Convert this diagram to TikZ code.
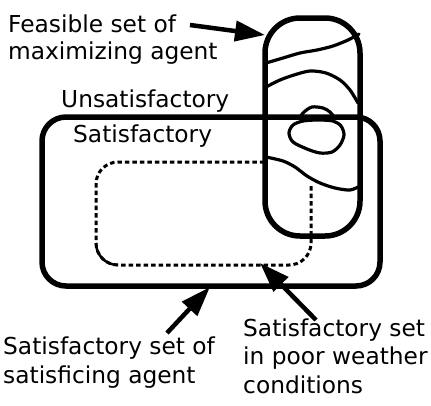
\documentclass[tikz,border=0pt]{standalone}
\usepackage{fontspec}
\setmainfont{DejaVu Sans}
\usetikzlibrary{arrows.meta}
\begin{document}
\begin{tikzpicture}[x=1pt,y=-1pt,
  setbox/.style={draw, line width=5.5pt, inner sep=0pt, outer sep=0pt},
  contour/.style={line width=3.2pt, line join=round, line cap=round},
  weather/.style={line width=3pt, dash pattern=on 4.5pt off 3pt},
  pointer/.style={line width=4.5pt, -{Triangle[length=30pt,width=20pt]}},
  lbl/.style={inner sep=0pt, anchor=base west, align=left,
    font=\fontsize{23.3}{27}\selectfont},
  lblwide/.style={lbl, font=\fontsize{23.3}{28.5}\selectfont},
]
\useasboundingbox (0,0) rectangle (431,405);

% feasible set (tall pill) and satisfactory set (wide box)
\node[setbox, rounded corners=35pt, minimum width=95pt, minimum height=218pt]
  (feasible) at (312.5,127) {};
\node[setbox, rounded corners=24pt, minimum width=338pt, minimum height=169pt]
  (satisfset) at (211,201.5) {};

% satisfactory set in poor weather (dashed), cut off by the lower contour
\draw[weather, rounded corners=22pt] (311,186) -- (311,265) -- (96,265) -- (96,162) -- (267,162);
\draw[line width=2.5pt] (118,265) arc[start angle=90, end angle=180, radius=22];

% contour lines of the objective inside the feasible set
\draw[contour] plot[smooth] coordinates {(266,63) (283,58) (300,53) (317,50) (333,46) (348,40) (359,34)};
\draw[contour] plot[smooth] coordinates {(266,87) (280,80) (294,75) (310,71) (326,73) (340,80) (350,90) (358,103)};
\draw[contour] plot[smooth] coordinates {(300,117) (304,112) (312,107) (323,108) (330,112) (334,117)};
\draw[contour] plot[smooth cycle] coordinates {(293,125) (289,133) (293,142) (307,149) (320,153) (332,152) (340,145) (344,135) (341,126) (333,121) (318,120) (303,121)};
\draw[contour] plot[smooth] coordinates {(266,157) (283,161) (295,167) (307,176) (320,183) (335,188) (350,190) (360,186)};

% labels (anchored at the baseline of their last line)
\node[lbl] (feaslabel) at (8,59) {Feasible set of\\maximizing agent};
\node[lbl] (unsat) at (61,107) {Unsatisfactory};
\node[lbl] (sat) at (73,142) {Satisfactory};
\node[lblwide] (satislabel) at (3,383) {Satisfactory set of\\satisficing agent};
\node[lblwide] (poorlabel) at (243,393) {Satisfactory set\\in poor weather\\conditions};

% pointers
\coordinate (feastail) at (190,25);
\coordinate (feastip) at (265,35);
\coordinate (satistail) at (167,333);
\coordinate (satistip) at (210,287);
\coordinate (poortail) at (316,320);
\coordinate (poortip) at (260,263);
\draw[pointer] (feastail) -- (feastip);
\draw[pointer] (satistail) -- (satistip);
\draw[pointer] (poortail) -- (poortip);
\end{tikzpicture}
\end{document}
